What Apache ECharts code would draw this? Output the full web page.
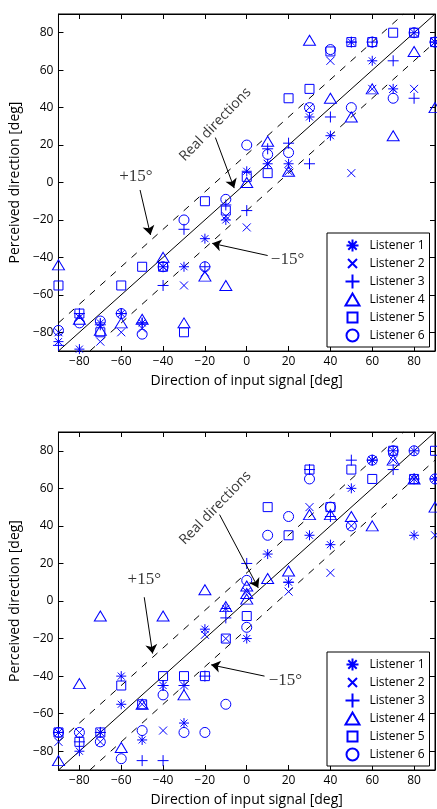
<!DOCTYPE html>
<html>
<head>
<meta charset="utf-8">
<script src="https://cdn.jsdelivr.net/npm/echarts@6/dist/echarts.min.js"></script>
<style>
html,body{margin:0;padding:0;background:#fff;}
#chart{width:437px;height:809px;}
</style>
</head>
<body>
<div id="chart"></div>
<script>
// ---------- data ----------
const directions = [-90,-80,-70,-60,-50,-40,-30,-20,-10,0,10,20,30,40,50,60,70,80,90];
const tickValues = [-80,-60,-40,-20,0,20,40,60,80];
const listenerNames = ['Listener 1','Listener 2','Listener 3','Listener 4','Listener 5','Listener 6'];

// Top panel: perceived direction per listener (one value per input direction)
const top1 = [-85,-89,-75,-70,-75,-45,-45,-30,-20,6,10,10,35,25,75,65,50,80,75];
const top2 = [-80,-72,-85,-80,-78,-45,-55,-48,-18,-24,10,6,40,65,5,50,50,50,75];
const top3 = [-87,-70,-76,-70,-75,-55,-25,-45,-12,-15,18,21,10,35,75,75,65,45,75];
const top4 = [-44,-73,-79,-75,-73,-40,-75,-50,-55,0,22,6,76,45,35,50,25,70,40];
const top5 = [-55,-70,-80,-55,-45,-45,-80,-10,-15,3,5,45,50,70,75,75,80,80,75];
const top6 = [-79,-75,-74,-70,-81,-45,-20,-45,-9,20,15,16,40,71,40,75,45,80,75];

// Bottom panel
const bot1 = [-70,-80,-70,-40,-74,-45,-65,-15,-4,-20,25,10,35,30,60,75,80,35,65];
const bot2 = [-75,-70,-75,null,-55,-69,-45,-18,-20,5,null,5,50,15,40,75,75,65,35];
const bot3 = [-70,-75,-70,null,-85,-45,-45,-40,-9,20,null,10,70,45,75,75,70,65,65];
const bot4 = [-85,-44,-8,-78,-55,-8,-50,6,-3,1,12,16,46,46,45,40,75,65,50];
const bot5 = [-70,-75,-70,-45,-55,-40,-40,-40,-20,-8,50,35,70,50,70,65,80,65,80];
const bot6 = [-70,-70,-75,-84,-69,-50,-70,-70,-55,-14,35,45,65,50,40,75,80,80,65];
// repeated responses at the same input direction (extra points)
const botExtra1 = [[-60,-55],[80,80]];
const botExtra3 = [[-40,-85]];
const botExtra4 = [[0,4],[0,8]];
const botExtra6 = [[0,11]];

// annotations (data coordinates)
const annTop = {
  real: {text:'Real directions', at:[-15,31], from:[-15,24], to:[-6,-3]},
  plus: {text:'+15°', at:[-53,3], from:[-51,-4], to:[-46,-28]},
  minus:{text:'\u221215°', at:[19.5,-41], from:[10,-39], to:[-16.5,-32.5]}
};
const annBot = {
  real: {text:'Real directions', at:[-15,49.5], from:[-13,46], to:[5.5,7]},
  plus: {text:'+15°', at:[-49,11.5], from:[-49,2], to:[-45,-28]},
  minus:{text:'\u221215°', at:[18.5,-42.5], from:[8.5,-40], to:[-17,-34]}
};

// ---------- styling ----------
const BLUE = '#0000ff';
const symbols = [
  {symbol:'path://M0,5L10,5M5,0L5,10M1.5,1.5L8.5,8.5M8.5,1.5L1.5,8.5', size:10},
  {symbol:'path://M0,0L10,10M10,0L0,10', size:8},
  {symbol:'path://M0,5L10,5M5,0L5,10', size:11},
  {symbol:'path://M6,0L12,10L0,10Z', size:[12,10]},
  {symbol:'rect', size:9},
  {symbol:'circle', size:10}
];
// legend icons drawn in a 14x14 box (leading moveTo points fix the box)
const legendIcons = [
  'path://M0,0M14,14M1,7L13,7M7,1L7,13M2.8,2.8L11.2,11.2M11.2,2.8L2.8,11.2',
  'path://M0,0M14,14M2.5,2.5L11.5,11.5M11.5,2.5L2.5,11.5',
  'path://M0,7L14,7M7,0L7,14',
  'path://M0,0M14,14M7,1L14,13L0,13Z',
  'path://M0,0M14,14M2,2L12,2L12,12L2,12Z',
  'path://M0,0M14,14M7,1A6,6,0,1,1,7,13A6,6,0,1,1,7,1Z'
];
const FONT = 'Open Sans';

function pairs(ys, extra){
  const out = [];
  ys.forEach((y,i)=>{ if(y!==null) out.push([directions[i], y]); });
  (extra||[]).forEach(p=>out.push(p));
  return out;
}
const fmt = v => v < 0 ? '\u2212' + (-v) : String(v);

function axesFor(){
  const base = {
    type:'value', min:-90, max:90,
    axisLine:{show:true, onZero:false, lineStyle:{color:'#000', width:1}},
    axisTick:{show:true, inside:true, length:5, customValues:tickValues, lineStyle:{color:'#000'}},
    splitLine:{show:false}
  };
  const xa = Object.assign({}, base, {
    position:'bottom',
    axisLabel:{show:true, customValues:tickValues, formatter:fmt, margin:5, color:'#000', fontFamily:FONT, fontSize:12},
    name:'Direction of input signal [deg]', nameLocation:'middle', nameGap:23,
    nameTextStyle:{color:'#000', fontFamily:FONT, fontSize:14}
  });
  const xt = Object.assign({}, base, {position:'top', axisLabel:{show:false}});
  const ya = Object.assign({}, base, {
    position:'left',
    axisLabel:{show:true, customValues:tickValues, formatter:fmt, margin:5, color:'#000', fontFamily:FONT, fontSize:12},
    name:'Perceived direction [deg]', nameLocation:'middle', nameGap:33,
    nameTextStyle:{color:'#000', fontFamily:FONT, fontSize:14}
  });
  const yr = Object.assign({}, base, {position:'right', axisLabel:{show:false}});
  return {x:[xa,xt], y:[ya,yr]};
}

function panelSeries(axisIdx, lists, ann){
  const s = [];
  const lineBase = {type:'line', xAxisIndex:axisIdx, yAxisIndex:axisIdx, showSymbol:false, silent:true, z:1, animation:false};
  s.push(Object.assign({}, lineBase, {data:[[-90,-90],[90,90]], lineStyle:{color:'#000', width:1}}));
  s.push(Object.assign({}, lineBase, {data:[[-90,-75],[75,90]], lineStyle:{color:'#000', width:1, type:[7,7]}}));
  s.push(Object.assign({}, lineBase, {data:[[-75,-90],[90,75]], lineStyle:{color:'#000', width:1, type:[7,7]}}));
  lists.forEach((data,i)=>{
    s.push({
      type:'scatter', name:listenerNames[i], xAxisIndex:axisIdx, yAxisIndex:axisIdx,
      symbol:symbols[i].symbol, symbolSize:symbols[i].size, data,
      itemStyle:{color:'none', borderColor:BLUE, borderWidth:1, opacity:1},
      emphasis:{disabled:true}, animation:false, z:3
    });
  });
  s.push({
    type:'lines', coordinateSystem:'cartesian2d', xAxisIndex:axisIdx, yAxisIndex:axisIdx,
    symbol:['none','arrow'], symbolSize:[0,9], z:4, animation:false, silent:true,
    lineStyle:{color:'#000', width:1, opacity:1},
    data:[ann.real, ann.plus, ann.minus].map(a=>({coords:[a.from, a.to]}))
  });
  s.push({
    type:'scatter', xAxisIndex:axisIdx, yAxisIndex:axisIdx, symbolSize:1, silent:true, z:5, animation:false,
    itemStyle:{color:'rgba(0,0,0,0)'},
    data:[
      {value:ann.real.at, label:{show:true, position:'inside', formatter:ann.real.text, rotate:46, color:'#000', fontFamily:FONT, fontSize:14}},
      {value:ann.plus.at, label:{show:true, position:'inside', formatter:ann.plus.text, color:'#000', fontFamily:'Liberation Serif', fontSize:17}},
      {value:ann.minus.at, label:{show:true, position:'inside', formatter:ann.minus.text, color:'#000', fontFamily:'Liberation Serif', fontSize:17}}
    ]
  });
  return s;
}

const a0 = axesFor(), a1 = axesFor();
const topLists = [pairs(top1),pairs(top2),pairs(top3),pairs(top4),pairs(top5),pairs(top6)];
const botLists = [pairs(bot1,botExtra1),pairs(bot2),pairs(bot3,botExtra3),pairs(bot4,botExtra4),pairs(bot5),pairs(bot6,botExtra6)];

function legendAt(top){
  return {
    orient:'vertical', left:327, top, selectedMode:false,
    data:listenerNames.map((n,i)=>({name:n, icon:legendIcons[i]})),
    itemWidth:14, itemHeight:14, itemGap:-1, padding:[3,5,2,16],
    borderColor:'#000', borderWidth:1, backgroundColor:'#fff',
    textStyle:{color:'#000', fontFamily:FONT, fontSize:12, lineHeight:14, padding:[0,0,0,5]}
  };
}

const option = {
  backgroundColor:'#fff',
  animation:false,
  grid:[
    {left:55, top:14, width:380, height:337, show:true, borderColor:'#000', borderWidth:1, backgroundColor:'transparent'},
    {left:55, top:432, width:380, height:338, show:true, borderColor:'#000', borderWidth:1, backgroundColor:'transparent'}
  ],
  xAxis:[a0.x[0], a0.x[1], a1.x[0], a1.x[1]].map((ax,i)=>Object.assign({}, ax, {gridIndex: i<2?0:1})),
  yAxis:[a0.y[0], a0.y[1], a1.y[0], a1.y[1]].map((ax,i)=>Object.assign({}, ax, {gridIndex: i<2?0:1})),
  legend:[legendAt(233), legendAt(652)],
  series:[].concat(panelSeries(0, topLists, annTop), panelSeries(2, botLists, annBot))
};
const chart = echarts.init(document.getElementById('chart'), null, {renderer:'canvas'});
chart.setOption(option);
</script>
</body>
</html>
